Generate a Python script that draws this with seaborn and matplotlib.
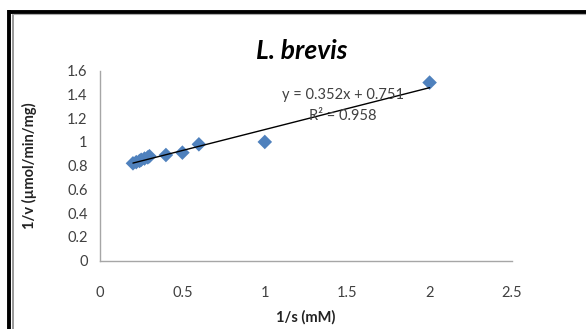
import matplotlib
matplotlib.use("Agg")
import matplotlib.pyplot as plt
import seaborn as sns
import pandas as pd
import numpy as np
from matplotlib.lines import Line2D

inv_s = [0.20, 0.22, 0.24, 0.25, 0.27, 0.29, 0.30, 0.40, 0.50, 0.60, 1.00, 2.00]
inv_v = [0.82, 0.83, 0.84, 0.85, 0.86, 0.87, 0.88, 0.89, 0.91, 0.98, 1.00, 1.50]
x_ticks = [0, 0.5, 1, 1.5, 2, 2.5]
x_tick_labels = ["0", "0.5", "1", "1.5", "2", "2.5"]
y_ticks = [0, 0.2, 0.4, 0.6, 0.8, 1.0, 1.2, 1.4, 1.6]
y_tick_labels = ["0", "0.2", "0.4", "0.6", "0.8", "1", "1.2", "1.4", "1.6"]
title = "L. brevis"
eq_text = "y = 0.352x + 0.751"
r2_text = "R² = 0.958"

df = pd.DataFrame({"x": inv_s, "y": inv_v})

sns.set_theme(style="white")
plt.rcParams["font.family"] = ["Lato", "DejaVu Sans"]

fig = plt.figure(figsize=(5.86, 3.29), dpi=100)
ax = fig.add_axes([100/586, 1-260.7/329, 412/586, 190/329])

sns.regplot(data=df, x="x", y="y", ax=ax, ci=None, truncate=True, marker="D",
            scatter_kws=dict(s=55, color="#4f81bd", edgecolor="none", zorder=2, alpha=1),
            line_kws=dict(color="black", lw=1.0, zorder=3))

ax.set_xlim(0, 2.5)
ax.set_ylim(0, 1.6)
ax.set_xticks(x_ticks)
ax.set_xticklabels(x_tick_labels)
ax.set_yticks(y_ticks)
ax.set_yticklabels(y_tick_labels)
for s in ["top", "right"]:
    ax.spines[s].set_visible(False)
for s in ["left", "bottom"]:
    ax.spines[s].set_color("#a6a6a6")
    ax.spines[s].set_linewidth(1.0)
ax.tick_params(axis="both", which="both", direction="out", length=4, width=1,
               color="#a6a6a6", labelsize=10.5, labelcolor="#404040")
ax.tick_params(axis="x", pad=14)
ax.tick_params(axis="y", pad=5)
ax.grid(False)

ax.set_xlabel("1/s (mM)", fontsize=10.5, fontweight="bold", color="#222222", va="center")
ax.set_ylabel("1/v (µmol/min/mg)", fontsize=10.5, fontweight="bold", color="#222222", va="center")
ax.xaxis.set_label_coords(0.5, -0.30)
ax.yaxis.set_label_coords(-0.17, 0.5)

fig.text(302/586, 1-51/329, title, fontsize=19, fontweight="bold", fontstyle="italic",
         ha="center", va="center", color="black")
fig.text(343/586, 1-95/329, eq_text, fontsize=10.5, ha="center", va="center", color="#404040")
fig.text(343/586, 1-116/329, r2_text, fontsize=10.5, ha="center", va="center", color="#404040")

# frame lines
fig.add_artist(Line2D([9.5/586, 9.5/586], [0, 1-10/329], transform=fig.transFigure,
                      color="black", lw=2.8, solid_capstyle="butt"))
fig.add_artist(Line2D([12.5/586, 12.5/586], [0, 1-13.5/329], transform=fig.transFigure,
                      color="#888888", lw=1.2, solid_capstyle="butt"))
fig.add_artist(Line2D([8/586, 1], [1-11.5/329, 1-11.5/329], transform=fig.transFigure,
                      color="black", lw=2.8, solid_capstyle="butt"))
fig.add_artist(Line2D([12/586, 1], [1-13.8/329, 1-13.8/329], transform=fig.transFigure,
                      color="#aaaaaa", lw=0.8, solid_capstyle="butt"))

fig.savefig("out.png", dpi=100)
